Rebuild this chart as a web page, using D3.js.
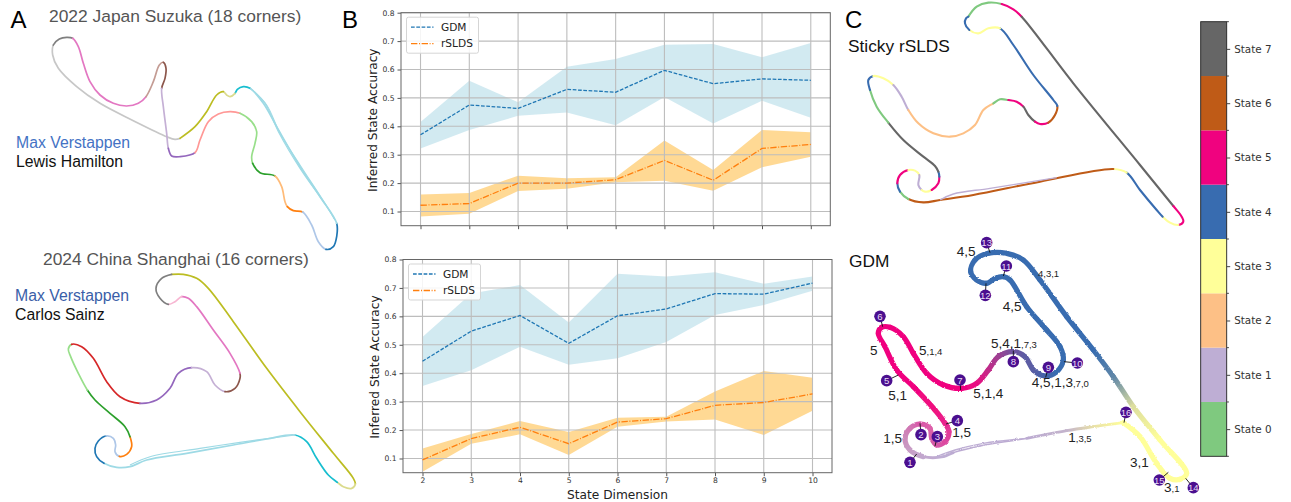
<!DOCTYPE html>
<html>
<head>
<meta charset="utf-8">
<script src="https://cdn.jsdelivr.net/npm/d3@7"></script>
<style>
  html, body { margin: 0; padding: 0; background: #fff; overflow: hidden; }
  svg { display: block; }
  .sans { font-family: "Liberation Sans", Arial, sans-serif; }
  .plot text { font-family: "DejaVu Sans", sans-serif; }
</style>
</head>
<body>
<div id="wrapper"></div>
<script>
// ---- accuracy panels
const stateDims = [2, 3, 4, 5, 6, 7, 8, 9, 10]
const suzukaGdmMean = [0.37, 0.475, 0.463, 0.53, 0.52, 0.597, 0.55, 0.567, 0.562]
const suzukaGdmUpper = [0.415, 0.56, 0.485, 0.61, 0.637, 0.687, 0.69, 0.643, 0.693]
const suzukaGdmLower = [0.322, 0.387, 0.437, 0.449, 0.404, 0.503, 0.41, 0.49, 0.43]
const suzukaSldsMean = [0.122, 0.128, 0.2, 0.2, 0.212, 0.28, 0.21, 0.322, 0.336]
const suzukaSldsUpper = [0.16, 0.165, 0.226, 0.217, 0.221, 0.35, 0.246, 0.387, 0.379]
const suzukaSldsLower = [0.082, 0.092, 0.172, 0.18, 0.203, 0.208, 0.173, 0.256, 0.293]
const shanghaiGdmMean = [0.442, 0.548, 0.603, 0.505, 0.602, 0.626, 0.68, 0.678, 0.717]
const shanghaiGdmUpper = [0.527, 0.68, 0.71, 0.578, 0.75, 0.74, 0.755, 0.715, 0.74]
const shanghaiGdmLower = [0.355, 0.41, 0.493, 0.43, 0.453, 0.51, 0.605, 0.64, 0.69]
const shanghaiSldsMean = [0.095, 0.17, 0.21, 0.152, 0.228, 0.24, 0.287, 0.297, 0.327]
const shanghaiSldsUpper = [0.135, 0.186, 0.232, 0.193, 0.243, 0.247, 0.336, 0.408, 0.384]
const shanghaiSldsLower = [0.053, 0.152, 0.185, 0.112, 0.212, 0.23, 0.237, 0.183, 0.268]
const accuracyTicks = [0.1, 0.2, 0.3, 0.4, 0.5, 0.6, 0.7, 0.8]

// ---- tracks, in track units, one state per point
const suzukaTrack = [[540,415],[525,418],[500,410],[400,362],[300,310],[230,260],[175,205],[158,165],[160,135],[178,117],[200,112],[218,115],[235,140],[250,190],[270,245],[300,285],[340,310],[380,318],[415,310],[438,290],[460,245],[478,195],[490,187],[498,205],[495,235],[485,265],[490,320],[500,400],[505,445],[515,468],[540,470],[585,458],[600,420],[625,365],[655,342],[690,335],[720,340],[755,365],[770,395],[765,430],[755,470],[758,490],[780,518],[825,528],[845,560],[855,605],[862,620],[880,632],[908,636],[935,675],[955,725],[978,748],[1000,740],[1010,710],[1010,670],[960,590],[900,500],[830,380],[790,310],[750,265],[730,260],[712,268],[705,280],[690,290],[680,285],[670,275],[650,285],[620,335],[585,380],[540,415]]
const suzukaSegment = [15,15,15,15,15,15,15,15,14,14,14,12,12,12,12,12,12,12,12,11,11,11,10,10,10,9,9,9,8,8,8,7,7,7,7,7,5,5,5,5,5,4,4,3,3,3,2,2,1,1,1,0,0,0,19,19,19,19,19,18,18,18,17,17,17,16,16,16,16,16]
const suzukaBranchA = [[1005,660],[975,610],[900,495],[840,400],[800,315],[752,265]]
const suzukaBranchB = [[1005,660],[975,612],[900,505],[835,395],[795,310],[750,265]]

const shanghaiTrack = [[515,88],[550,88],[590,100],[625,130],[700,230],[800,370],[900,500],[1000,625],[1060,700],[1066,717],[1055,730],[1030,725],[1012,712],[985,690],[950,640],[920,590],[885,570],[800,582],[700,600],[560,625],[440,645],[390,665],[350,667],[312,655],[290,635],[285,610],[295,588],[318,573],[340,580],[347,600],[345,620],[358,634],[380,628],[395,605],[390,575],[375,545],[330,505],[285,465],[262,435],[235,385],[212,335],[205,312],[215,298],[245,305],[280,340],[320,410],[360,455],[420,475],[470,465],[510,430],[535,385],[575,368],[620,380],[645,420],[675,440],[705,430],[720,400],[720,385],[690,325],[640,255],[590,185],[565,160],[545,155],[525,170],[505,178],[480,160],[468,130],[485,100],[515,88]]
const shanghaiSegment = [16,16,16,16,16,16,16,16,16,17,17,17,18,18,18,18,19,19,19,19,19,19,19,0,0,0,0,1,1,1,1,2,2,2,4,4,4,4,5,5,5,5,6,6,6,6,6,8,8,8,8,9,9,9,10,10,10,12,12,12,12,12,13,13,14,14,14,14,14]
const shanghaiBranch = [[885,570],[720,592],[600,610],[450,635],[390,660]]

const stickyTrack = [[385,50],[410,20],[445,8],[485,12],[520,28],[545,50],[700,250],[900,495],[1000,618],[1025,650],[1030,665],[1015,675],[990,668],[968,650],[950,630],[900,570],[860,518],[820,507],[600,545],[400,585],[300,600],[250,607],[205,597],[180,575],[172,550],[180,525],[205,510],[225,512],[238,525],[235,555],[245,570],[255,575],[275,570],[295,550],[298,530],[295,515],[285,498],[250,470],[190,420],[145,368],[110,320],[90,270],[85,240],[100,228],[130,235],[160,255],[185,290],[205,330],[235,370],[280,400],[330,410],[370,400],[405,375],[430,330],[460,310],[480,298],[505,300],[530,305],[550,320],[565,345],[585,365],[600,372],[625,368],[645,345],[652,318],[640,300],[580,225],[520,135],[480,85],[445,85],[415,100],[388,90],[375,70],[378,55],[385,50]]
const stickyStates = [0,0,0,5,5,7,7,7,5,5,5,3,3,4,4,4,3,6,6,6,6,6,0,4,5,5,3,3,1,1,3,3,5,5,4,7,7,7,7,0,0,4,4,3,3,1,1,2,2,2,2,2,2,2,0,0,5,5,7,7,5,5,6,6,4,4,4,4,3,3,3,4,4,4,4]
const stickyBranch = [[300,600],[340,582],[450,565],[650,533]]

const gdmTrack = [[850,578],[760,590],[680,602],[560,625],[420,648],[340,668],[310,680],[250,680],[210,660],[195,625],[210,595],[240,582],[270,595],[275,625],[290,645],[315,635],[327,605],[315,580],[285,540],[220,470],[170,420],[135,350],[115,310],[125,292],[150,292],[190,320],[220,370],[260,430],[310,465],[365,475],[410,460],[445,420],[475,380],[520,365],[555,380],[580,420],[615,438],[650,425],[670,390],[660,350],[620,300],[560,230],[510,150],[490,140],[465,145],[440,160],[410,150],[392,125],[405,90],[445,70],[500,70],[550,90],[600,150],[680,260],[760,360],[820,440],[880,530],[960,630],[1040,730],[1020,748],[990,745],[950,700],[900,620],[850,578]]
const gdmColors = ["#ffff99","#e8e0a8","#c4b4cc","#bcabd2","#bcabd2","#bcabd2","#beaed4","#c2a8cf","#c79dc6","#cc8dbc","#d078b4","#d957a8","#dd60aa","#d860a8","#d65aa8","#dc48a0","#e23c9a","#e8228e","#f0127f","#f0027f","#f0027f","#f0027f","#f0027f","#f0027f","#f0027f","#f0027f","#f0027f","#f0027f","#f0027f","#f0027f","#e80f82","#c22a88","#9f3f92","#6f559f","#5d5ca3","#5a5ea4","#4464aa","#386cb0","#386cb0","#386cb0","#386cb0","#386cb0","#386cb0","#386cb0","#386cb0","#386cb0","#386cb0","#386cb0","#386cb0","#386cb0","#386cb0","#386cb0","#386cb0","#386cb0","#386cb0","#5f86a8","#ddde9f","#ffff99","#ffff99","#ffff99","#ffff99","#ffff99","#ffff99","#ffff99"]
const gdmBranch = [[560,625],[430,640],[345,660],[290,680]]
const gdmEvents = [1,2,3,4,5,6,7,8,9,10,11,12,13,14,15,16]
const gdmEventMarks = [[210,697],[243,614],[292,620],[352,572],[140,452],[120,259],[360,450],[520,395],[625,412],[712,399],[499,108],[436,196],[440,38],[1060,773],[958,750],[858,547]]
const gdmEventAnchors = [[230,672],[240,580],[285,648],[318,582],[175,435],[128,290],[362,480],[520,362],[617,442],[672,395],[490,138],[438,160],[450,68],[1037,745],[985,727],[852,578]]
const gdmLabelMain = ["4,5","","4,5","5","5","5,4,1","4,5,1,3","5,1,4","5,1","1,5","1,5","1","3,1","3"]
const gdmLabelSub = ["","4,3,1","","",",1,4",",7,3",",7,0","","","","",",3,5","",",1"]

const stateNames = ["State 0", "State 1", "State 2", "State 3", "State 4", "State 5", "State 6", "State 7"]

// ---- helpers

const tab20 = ["#1f77b4","#aec7e8","#ff7f0e","#ffbb78","#2ca02c","#98df8a","#d62728","#ff9896","#9467bd","#c5b0d5","#8c564b","#c49c94","#e377c2","#f7b6d2","#7f7f7f","#c7c7c7","#bcbd22","#dbdb8d","#17becf","#9edae5"]
const accent = d3.schemeAccent

const width = 1291
const height = 502

const wrapper = d3.select("#wrapper")
  .append("svg")
  .attr("width", width)
  .attr("height", height)

const defs = wrapper.append("defs")
const rough = defs.append("filter")
  .attr("id", "rough")
  .attr("filterUnits", "userSpaceOnUse")
  .attr("x", 0).attr("y", 0)
  .attr("width", width).attr("height", height)
rough.append("feTurbulence")
  .attr("type", "fractalNoise")
  .attr("baseFrequency", 0.45)
  .attr("numOctaves", 2)
  .attr("seed", 3)
rough.append("feDisplacementMap")
  .attr("in", "SourceGraphic")
  .attr("scale", 2.2)
  .attr("xChannelSelector", "R")
  .attr("yChannelSelector", "G")

// track units are 1/3 of a page pixel
const trackScales = (left, top) => ({
  x: d3.scaleLinear().domain([0, 1000]).range([left, left + 1000 / 3]),
  y: d3.scaleLinear().domain([0, 1000]).range([top, top + 1000 / 3]),
})

// run the curve once over the whole track and keep each Bezier piece
const trackPieces = (points, scales) => {
  const pieces = []
  let cur = null
  const recorder = {
    beginPath() {}, closePath() {},
    moveTo(x, y) { cur = [x, y] },
    lineTo(x, y) { pieces.push(`M${cur}L${x},${y}`); cur = [x, y] },
    bezierCurveTo(a, b, c, d, e, f) {
      pieces.push({ from: cur, to: [e, f], d: `C${a},${b},${c},${d},${e},${f}` })
      cur = [e, f]
    },
  }
  d3.line()
    .x(d => scales.x(d[0]))
    .y(d => scales.y(d[1]))
    .curve(d3.curveCatmullRom.alpha(0.5))
    .context(recorder)(points)
  return pieces
}

const plainLine = scales => d3.line()
  .x(d => scales.x(d[0]))
  .y(d => scales.y(d[1]))
  .curve(d3.curveCatmullRom)

const drawTrack = (group, points, colorOf, strokeWidth, scales) => {
  const pieces = trackPieces(points, scales)
  let runStart = 0
  pieces.forEach((piece, i) => {
    const next = pieces[i + 1]
    if (next && colorOf(i + 1) === colorOf(i)) return
    const run = pieces.slice(runStart, i + 1)
    group.append("path")
      .attr("d", `M${run[0].from}` + run.map(p => p.d).join(""))
      .attr("fill", "none")
      .attr("stroke", colorOf(i))
      .attr("stroke-width", strokeWidth)
      .attr("stroke-linecap", "round")
    runStart = i + 1
  })
}

const addText = (content, x, y, size, color, cls = "sans") => wrapper.append("text")
  .attr("class", cls)
  .attr("x", x)
  .attr("y", y)
  .attr("font-size", size)
  .attr("fill", color)
  .text(content)

// ---- panel A

const suzukaScales = trackScales(0, 0)
const suzukaGroup = wrapper.append("g")
drawTrack(suzukaGroup, suzukaTrack, i => tab20[suzukaSegment[i]], 1.7, suzukaScales)
;[suzukaBranchA, suzukaBranchB].forEach(branch => {
  suzukaGroup.append("path")
    .attr("d", plainLine(suzukaScales)(branch))
    .attr("fill", "none")
    .attr("stroke", tab20[19])
    .attr("stroke-width", 1.1)
})

const shanghaiScales = trackScales(0, 245)
const shanghaiGroup = wrapper.append("g")
drawTrack(shanghaiGroup, shanghaiTrack, i => tab20[shanghaiSegment[i]], 1.7, shanghaiScales)
shanghaiGroup.append("path")
  .attr("d", plainLine(shanghaiScales)(shanghaiBranch))
  .attr("fill", "none")
  .attr("stroke", tab20[19])
  .attr("stroke-width", 1.1)

addText("A", 10.5, 28, 24, "#000")
addText("2022 Japan Suzuka (18 corners)", 49, 22, 17.4, "#555")
addText("Max Verstappen", 16, 148, 15.8, "#4472c4")
addText("Lewis Hamilton", 16, 167, 15.8, "#111")
addText("2024 China Shanghai (16 corners)", 43, 265, 17.4, "#555")
addText("Max Verstappen", 15, 301, 15.8, "#3a5ea8")
addText("Carlos Sainz", 15, 320, 15.8, "#111")

// ---- panel B

const drawAccuracy = (box, gdm, slds, showXLabels) => {
  const xScale = d3.scaleLinear()
    .domain([1.6, 10.4])
    .range([box.left, box.right])
  const yScale = d3.scaleLinear()
    .domain([0.05, 0.8])
    .range([box.bottom, box.top])

  const bounds = wrapper.append("g").attr("class", "plot")

  const band = (upper, lower, color, opacity) => {
    const area = d3.area()
      .x((d, i) => xScale(stateDims[i]))
      .y0((d, i) => yScale(lower[i]))
      .y1(d => yScale(d))
    bounds.append("path")
      .attr("d", area(upper))
      .attr("fill", color)
      .attr("fill-opacity", opacity)
  }
  band(gdm.upper, gdm.lower, "#add8e6", 0.55)
  band(slds.upper, slds.lower, "#ffa500", 0.42)

  const xAxis = d3.axisBottom(xScale)
    .tickValues(stateDims)
    .tickSize(3.5)
    .tickFormat(showXLabels ? d3.format("d") : "")
  const yAxis = d3.axisLeft(yScale)
    .tickValues(accuracyTicks)
    .tickSize(3.5)
    .tickFormat(d3.format(".1f"))

  const xGroup = bounds.append("g")
    .attr("transform", `translate(0,${box.bottom})`)
    .call(xAxis)
  const yGroup = bounds.append("g")
    .attr("transform", `translate(${box.left},0)`)
    .call(yAxis)
  xGroup.selectAll("text").attr("font-size", 7.6).attr("fill", "#333").attr("dy", "0.55em")
  yGroup.selectAll("text").attr("font-size", 7.6).attr("fill", "#333")
  xGroup.selectAll("line").attr("stroke", "#555")
  yGroup.selectAll("line").attr("stroke", "#555")
  xGroup.select(".domain").remove()
  yGroup.select(".domain").remove()

  // grid
  bounds.append("g").selectAll("line")
    .data(stateDims)
    .join("line")
    .attr("x1", d => xScale(d))
    .attr("x2", d => xScale(d))
    .attr("y1", box.top)
    .attr("y2", box.bottom)
    .attr("stroke", "#bdbdbd")
    .attr("stroke-width", 1.1)
  bounds.append("g").selectAll("line")
    .data(accuracyTicks)
    .join("line")
    .attr("x1", box.left)
    .attr("x2", box.right)
    .attr("y1", d => yScale(d))
    .attr("y2", d => yScale(d))
    .attr("stroke", "#bdbdbd")
    .attr("stroke-width", 1.1)

  const meanLine = d3.line()
    .x((d, i) => xScale(stateDims[i]))
    .y(d => yScale(d))
  bounds.append("path")
    .attr("d", meanLine(gdm.mean))
    .attr("fill", "none")
    .attr("stroke", "#1f77b4")
    .attr("stroke-width", 1.3)
    .attr("stroke-dasharray", "3.7,1.6")
  bounds.append("path")
    .attr("d", meanLine(slds.mean))
    .attr("fill", "none")
    .attr("stroke", "#ff7f0e")
    .attr("stroke-width", 1.3)
    .attr("stroke-dasharray", "6.4,1.6,1,1.6")

  // spines
  bounds.append("rect")
    .attr("x", box.left)
    .attr("y", box.top)
    .attr("width", box.right - box.left)
    .attr("height", box.bottom - box.top)
    .attr("fill", "none")
    .attr("stroke", "#666")
    .attr("stroke-width", 1)

  // legend
  const legend = bounds.append("g")
    .attr("transform", `translate(${box.left + 5.5},${box.top + 4.5})`)
  legend.append("rect")
    .attr("width", 72)
    .attr("height", 36)
    .attr("rx", 2)
    .attr("fill", "#fff")
    .attr("fill-opacity", 0.85)
    .attr("stroke", "#d5d5d5")
  const legendEntries = [["GDM", "#1f77b4", "3.7,1.6"], ["rSLDS", "#ff7f0e", "6.4,1.6,1,1.6"]]
  legendEntries.forEach(([label, color, dash], i) => {
    legend.append("line")
      .attr("x1", 4.5).attr("x2", 27)
      .attr("y1", 10 + i * 16.5).attr("y2", 10 + i * 16.5)
      .attr("stroke", color)
      .attr("stroke-width", 1.3)
      .attr("stroke-dasharray", dash)
    legend.append("text")
      .attr("x", 34.5)
      .attr("y", 13.8 + i * 16.5)
      .attr("font-size", 10.6)
      .attr("fill", "#222")
      .text(label)
  })

  bounds.append("text")
    .attr("transform", `translate(${box.left - 24},${(box.top + box.bottom) / 2 + 1}) rotate(-90)`)
    .attr("text-anchor", "middle")
    .attr("font-size", 12.2)
    .attr("fill", "#222")
    .text("Inferred State Accuracy")
}

drawAccuracy(
  { left: 401, right: 830.3, top: 12.7, bottom: 225.7 },
  { mean: suzukaGdmMean, upper: suzukaGdmUpper, lower: suzukaGdmLower },
  { mean: suzukaSldsMean, upper: suzukaSldsUpper, lower: suzukaSldsLower },
  false
)
drawAccuracy(
  { left: 403, right: 832, top: 259.5, bottom: 472.7 },
  { mean: shanghaiGdmMean, upper: shanghaiGdmUpper, lower: shanghaiGdmLower },
  { mean: shanghaiSldsMean, upper: shanghaiSldsUpper, lower: shanghaiSldsLower },
  true
)

addText("B", 342, 28, 24, "#000")
wrapper.append("text")
  .attr("class", "plot")
  .attr("x", 617.5)
  .attr("y", 499)
  .attr("text-anchor", "middle")
  .attr("font-family", "DejaVu Sans")
  .attr("font-size", 12.2)
  .attr("fill", "#222")
  .text("State Dimension")

// ---- panel C, sticky rSLDS

const stickyScales = trackScales(840, 0)
const stickyGroup = wrapper.append("g")
drawTrack(stickyGroup, stickyTrack, i => accent[stickyStates[i]], 2.1, stickyScales)
stickyGroup.append("path")
  .attr("d", plainLine(stickyScales)(stickyBranch))
  .attr("fill", "none")
  .attr("stroke", accent[1])
  .attr("stroke-width", 1.4)

addText("C", 845, 28, 24, "#000")
addText("Sticky rSLDS", 848, 52, 17.3, "#111")
addText("GDM", 849, 267, 17.3, "#111")

// ---- panel C, GDM

const gdmScales = trackScales(840, 230)
const gdmGroup = wrapper.append("g").attr("filter", "url(#rough)")
const gdmPieces = trackPieces(gdmTrack, gdmScales)
const gdmPieceWidth = i => {
  if (i < 3) return 2.8
  if (i < 5) return 1.4
  if (i < 7) return 2.8
  return 5.2
}
gdmPieces.forEach((piece, i) => {
  const gradient = defs.append("linearGradient")
    .attr("id", `gdm-${i}`)
    .attr("gradientUnits", "userSpaceOnUse")
    .attr("x1", piece.from[0]).attr("y1", piece.from[1])
    .attr("x2", piece.to[0]).attr("y2", piece.to[1])
  gradient.append("stop").attr("offset", 0).attr("stop-color", gdmColors[i])
  gradient.append("stop").attr("offset", 1).attr("stop-color", gdmColors[i + 1])
  gdmGroup.append("path")
    .attr("d", `M${piece.from}${piece.d}`)
    .attr("fill", "none")
    .attr("stroke", `url(#gdm-${i})`)
    .attr("stroke-width", gdmPieceWidth(i))
    .attr("stroke-linecap", "round")
})
gdmGroup.append("path")
  .attr("d", plainLine(gdmScales)(gdmBranch))
  .attr("fill", "none")
  .attr("stroke", accent[1])
  .attr("stroke-width", 1.4)

const markers = wrapper.append("g")
markers.selectAll("line")
  .data(gdmEvents)
  .join("line")
  .attr("x1", (d, i) => gdmScales.x(gdmEventMarks[i][0]))
  .attr("y1", (d, i) => gdmScales.y(gdmEventMarks[i][1]))
  .attr("x2", (d, i) => gdmScales.x(gdmEventAnchors[i][0]))
  .attr("y2", (d, i) => gdmScales.y(gdmEventAnchors[i][1]))
  .attr("stroke", "#111")
  .attr("stroke-width", 0.9)
markers.selectAll("circle")
  .data(gdmEvents)
  .join("circle")
  .attr("cx", (d, i) => gdmScales.x(gdmEventMarks[i][0]))
  .attr("cy", (d, i) => gdmScales.y(gdmEventMarks[i][1]))
  .attr("r", 5.8)
  .attr("fill", "#4b0f8f")
markers.selectAll("text")
  .data(gdmEvents)
  .join("text")
  .attr("class", "sans")
  .attr("x", (d, i) => gdmScales.x(gdmEventMarks[i][0]))
  .attr("y", (d, i) => gdmScales.y(gdmEventMarks[i][1]) + 3.5)
  .attr("text-anchor", "middle")
  .attr("font-size", 9.6)
  .attr("fill", "#e9ddf5")
  .text(d => d)

// label anchors in page pixels
const gdmLabelSpots = [[956.7,256],[1038,276.7],[1002.7,311],[870,355],[919,355],[991,348.3],[1031.7,387.3],[973.3,397.7],[888.3,400],[952.3,436.7],[883.3,443.3],[1068.3,441.7],[1130,466.7],[1164,491.7]]
const gdmLabels = wrapper.append("g").attr("class", "sans")
gdmLabelMain.forEach((main, i) => {
  const label = gdmLabels.append("text")
    .attr("x", gdmLabelSpots[i][0])
    .attr("y", gdmLabelSpots[i][1])
    .attr("fill", "#222")
  label.append("tspan").attr("font-size", 13.5).text(main)
  label.append("tspan").attr("font-size", 9.5).text(gdmLabelSub[i])
})

// ---- colorbar

const barBox = { left: 1200.7, right: 1226.7, top: 21.7, bottom: 456.3 }
const barScale = d3.scaleLinear()
  .domain([-0.5, 7.5])
  .range([barBox.bottom, barBox.top])
const bar = wrapper.append("g").attr("class", "plot")
bar.selectAll("rect")
  .data(stateNames)
  .join("rect")
  .attr("x", barBox.left)
  .attr("width", barBox.right - barBox.left)
  .attr("y", (d, i) => barScale(i + 0.5))
  .attr("height", (d, i) => barScale(i - 0.5) - barScale(i + 0.5))
  .attr("fill", (d, i) => accent[i])
bar.append("rect")
  .attr("x", barBox.left)
  .attr("y", barBox.top)
  .attr("width", barBox.right - barBox.left)
  .attr("height", barBox.bottom - barBox.top)
  .attr("fill", "none")
  .attr("stroke", "#222")
  .attr("stroke-width", 0.9)

const barTicks = d3.range(-0.5, 8, 1)
const barAxis = bar.append("g")
  .attr("transform", `translate(${barBox.right},0)`)
  .call(d3.axisRight(barScale)
    .tickValues(d3.range(0, 8))
    .tickSize(3.5)
    .tickPadding(4)
    .tickFormat(d => stateNames[d]))
barAxis.select(".domain").remove()
barAxis.selectAll("text").attr("font-size", 10.4).attr("fill", "#333")
barAxis.selectAll("line").attr("stroke", "#444")
bar.append("g").selectAll("line")
  .data(barTicks)
  .join("line")
  .attr("x1", barBox.right)
  .attr("x2", barBox.right + 2.2)
  .attr("y1", d => barScale(d))
  .attr("y2", d => barScale(d))
  .attr("stroke", "#444")
</script>
</body>
</html>
